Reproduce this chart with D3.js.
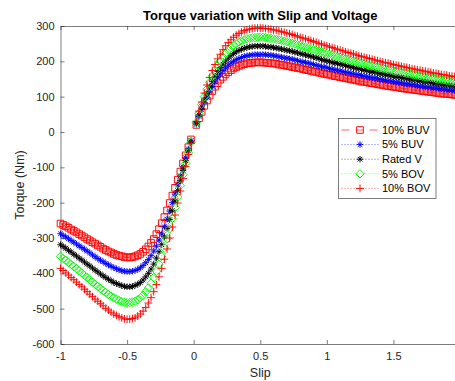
<!DOCTYPE html>
<html lang="en">
<head>
    <meta charset="UTF-8">
    <title>Torque variation with Slip and Voltage</title>
    <script src="https://d3js.org/d3.v7.min.js"></script>
    <style>
        body {
            margin: 0;
            background-color: #fff;
            font-family: "Liberation Sans", Arial, Helvetica, sans-serif;
        }
        svg { display: block; }
        .axis path, .axis line { stroke: #262626; stroke-width: 0.6px; }
        .axis text { fill: #262626; font-size: 11px; font-family: "Liberation Sans", Arial, sans-serif; }
    </style>
</head>
<body>
    <svg id="chart" width="455" height="381"></svg>
    <script>
// slip grid (s = 0 gives no value, so the curves break there)
const slip = [
    -1, -0.98, -0.96, -0.94, -0.92, -0.9, -0.88, -0.86, -0.84, -0.82,
    -0.8, -0.78, -0.76, -0.74, -0.72, -0.7, -0.68, -0.66, -0.64, -0.62,
    -0.6, -0.58, -0.56, -0.54, -0.52, -0.5, -0.48, -0.46, -0.44, -0.42,
    -0.4, -0.38, -0.36, -0.34, -0.32, -0.3, -0.28, -0.26, -0.24, -0.22,
    -0.2, -0.18, -0.16, -0.14, -0.12, -0.1, -0.08, -0.06, -0.04, -0.02,
    0,
    0.02, 0.04, 0.06, 0.08, 0.1, 0.12, 0.14, 0.16, 0.18, 0.2,
    0.22, 0.24, 0.26, 0.28, 0.3, 0.32, 0.34, 0.36, 0.38, 0.4,
    0.42, 0.44, 0.46, 0.48, 0.5, 0.52, 0.54, 0.56, 0.58, 0.6,
    0.62, 0.64, 0.66, 0.68, 0.7, 0.72, 0.74, 0.76, 0.78, 0.8,
    0.82, 0.84, 0.86, 0.88, 0.9, 0.92, 0.94, 0.96, 0.98, 1,
    1.02, 1.04, 1.06, 1.08, 1.1, 1.12, 1.14, 1.16, 1.18, 1.2,
    1.22, 1.24, 1.26, 1.28, 1.3, 1.32, 1.34, 1.36, 1.38, 1.4,
    1.42, 1.44, 1.46, 1.48, 1.5, 1.52, 1.54, 1.56, 1.58, 1.6,
    1.62, 1.64, 1.66, 1.68, 1.7, 1.72, 1.74, 1.76, 1.78, 1.8,
    1.82, 1.84, 1.86, 1.88, 1.9, 1.92, 1.94, 1.96, 1.98, 2
];

// torque (Nm) for each voltage level
const buv10 = [
    -259, -263, -267, -271, -276, -280, -284, -289, -293, -298,
    -303, -307, -312, -316, -321, -325, -330, -334, -338, -341,
    -345, -348, -350, -352, -354, -355, -355, -354, -352, -349,
    -345, -339, -332, -324, -314, -303, -289, -275, -258, -241,
    -222, -201, -180, -158, -135, -112, -89, -66, -43, -21,
    null,
    20, 39, 57, 74, 89, 103, 116, 128, 138, 148,
    156, 163, 169, 175, 180, 184, 187, 190, 192, 194,
    195, 196, 197, 197, 197, 197, 196, 195, 195, 194,
    193, 191, 190, 189, 187, 186, 184, 183, 181, 180,
    178, 176, 175, 173, 171, 170, 168, 166, 165, 163,
    162, 160, 158, 157, 155, 154, 152, 151, 149, 148,
    146, 145, 143, 142, 141, 139, 138, 137, 135, 134,
    133, 131, 130, 129, 128, 127, 126, 124, 123, 122,
    121, 120, 119, 118, 117, 116, 115, 114, 113, 112,
    111, 110, 109, 108, 108, 107, 106, 105, 104, 103
];
const buv5 = [
    -288, -293, -297, -302, -307, -312, -317, -322, -327, -332,
    -337, -342, -348, -353, -358, -363, -367, -372, -376, -380,
    -384, -387, -390, -393, -394, -395, -395, -394, -392, -389,
    -384, -378, -370, -361, -350, -337, -323, -306, -288, -268,
    -247, -224, -200, -176, -150, -124, -99, -73, -48, -24,
    null,
    22, 44, 64, 82, 99, 115, 129, 142, 154, 164,
    174, 182, 189, 195, 200, 205, 208, 211, 214, 216,
    217, 218, 219, 219, 219, 219, 219, 218, 217, 216,
    215, 213, 212, 210, 209, 207, 206, 204, 202, 200,
    198, 197, 195, 193, 191, 189, 187, 185, 184, 182,
    180, 178, 176, 175, 173, 171, 169, 168, 166, 164,
    163, 161, 160, 158, 157, 155, 154, 152, 151, 149,
    148, 146, 145, 144, 142, 141, 140, 139, 137, 136,
    135, 134, 133, 131, 130, 129, 128, 127, 126, 125,
    124, 123, 122, 121, 120, 119, 118, 117, 116, 115
];
const rated = [
    -319, -324, -329, -335, -340, -346, -351, -357, -362, -368,
    -374, -379, -385, -391, -396, -402, -407, -412, -417, -421,
    -426, -429, -432, -435, -437, -438, -438, -437, -434, -431,
    -426, -419, -410, -400, -388, -374, -357, -339, -319, -297,
    -273, -248, -222, -195, -166, -138, -109, -81, -53, -26,
    null,
    25, 48, 71, 91, 110, 128, 143, 158, 171, 182,
    192, 201, 209, 216, 222, 227, 231, 234, 237, 239,
    241, 242, 243, 243, 243, 243, 242, 241, 240, 239,
    238, 236, 235, 233, 231, 230, 228, 226, 224, 222,
    220, 218, 216, 214, 212, 210, 208, 205, 203, 201,
    199, 197, 195, 194, 192, 190, 188, 186, 184, 182,
    180, 179, 177, 175, 174, 172, 170, 169, 167, 165,
    164, 162, 161, 159, 158, 156, 155, 154, 152, 151,
    150, 148, 147, 146, 144, 143, 142, 141, 140, 138,
    137, 136, 135, 134, 133, 132, 131, 130, 129, 128
];
const bov5 = [
    -352, -358, -363, -369, -375, -381, -387, -393, -399, -406,
    -412, -418, -425, -431, -437, -443, -449, -454, -460, -465,
    -469, -473, -477, -480, -482, -483, -483, -481, -479, -475,
    -469, -462, -452, -441, -428, -412, -394, -374, -352, -328,
    -302, -274, -245, -214, -184, -152, -121, -89, -59, -29,
    null,
    27, 53, 78, 100, 121, 141, 158, 174, 188, 201,
    212, 222, 231, 238, 245, 250, 255, 258, 261, 264,
    265, 267, 267, 268, 268, 268, 267, 266, 265, 264,
    262, 261, 259, 257, 255, 253, 251, 249, 247, 245,
    242, 240, 238, 236, 233, 231, 229, 227, 224, 222,
    220, 218, 216, 213, 211, 209, 207, 205, 203, 201,
    199, 197, 195, 193, 191, 189, 188, 186, 184, 182,
    181, 179, 177, 176, 174, 172, 171, 169, 168, 166,
    165, 163, 162, 161, 159, 158, 156, 155, 154, 153,
    151, 150, 149, 148, 146, 145, 144, 143, 142, 141
];
const bov10 = [
    -386, -392, -399, -405, -412, -418, -425, -432, -438, -445,
    -452, -459, -466, -473, -479, -486, -492, -499, -504, -510,
    -515, -519, -523, -526, -529, -530, -530, -528, -526, -521,
    -515, -507, -497, -484, -469, -452, -432, -410, -386, -360,
    -331, -300, -269, -235, -201, -167, -132, -98, -64, -32,
    null,
    30, 59, 85, 110, 133, 154, 174, 191, 207, 220,
    233, 244, 253, 261, 268, 274, 279, 283, 287, 289,
    291, 293, 294, 294, 294, 294, 293, 292, 291, 289,
    288, 286, 284, 282, 280, 278, 276, 273, 271, 268,
    266, 264, 261, 259, 256, 254, 251, 249, 246, 244,
    241, 239, 237, 234, 232, 230, 227, 225, 223, 221,
    218, 216, 214, 212, 210, 208, 206, 204, 202, 200,
    198, 196, 195, 193, 191, 189, 188, 186, 184, 183,
    181, 179, 178, 176, 175, 173, 172, 170, 169, 167,
    166, 165, 163, 162, 161, 159, 158, 157, 156, 154
];

const seriesNames = ["10% BUV", "5% BUV", "Rated V", "5% BOV", "10% BOV"];
const xTicks = [-1, -0.5, 0, 0.5, 1, 1.5];
const yTicks = [-600, -500, -400, -300, -200, -100, 0, 100, 200, 300];

// matlab style for each series
const styles = [
    { values: buv10, color: "#ff0000", marker: "square",   dash: "8,6" },
    { values: buv5,  color: "#0000ff", marker: "asterisk", dash: "1,2" },
    { values: rated, color: "#000000", marker: "asterisk", dash: "1,2" },
    { values: bov5,  color: "#00ff00", marker: "diamond",  dash: "1,2" },
    { values: bov10, color: "#ff0000", marker: "plus",     dash: "1,2" }
];

const svg = d3.select("#chart");

const plot = { left: 60.5, right: 460, top: 26, bottom: 344 };

const x = d3.scaleLinear().domain([-1, 2]).range([plot.left, plot.right]);
const y = d3.scaleLinear().domain([-600, 300]).range([plot.bottom, plot.top]);

function markerPath(type) {
    if (type === "square") return "M-3.3,-3.3H3.3V3.3H-3.3Z";
    if (type === "diamond") return "M0,-4.2L4.2,0L0,4.2L-4.2,0Z";
    if (type === "plus") return "M-3.9,0H3.9M0,-3.9V3.9";
    // asterisk = plus + cross
    return "M-3.2,0H3.2M0,-3.2V3.2M-2.3,-2.3L2.3,2.3M-2.3,2.3L2.3,-2.3";
}

// axes (ticks point inwards like matlab)
svg.append("g")
    .attr("class", "axis")
    .attr("transform", `translate(0,${plot.bottom})`)
    .call(d3.axisBottom(x).tickValues(xTicks).tickSizeInner(-4).tickSizeOuter(0).tickPadding(8)
        .tickFormat(d => d));

svg.append("g")
    .attr("class", "axis")
    .attr("transform", `translate(0,${plot.top})`)
    .call(d3.axisTop(x).tickValues(xTicks).tickSizeInner(-4).tickSizeOuter(0).tickFormat(""));

svg.append("g")
    .attr("class", "axis")
    .attr("transform", `translate(${plot.left},0)`)
    .call(d3.axisLeft(y).tickValues(yTicks).tickSizeInner(-4).tickSizeOuter(0).tickPadding(6)
        .tickFormat(d => d));

// curves
const line = d3.line()
    .defined(d => d.t !== null)
    .x(d => x(d.s))
    .y(d => y(d.t));

styles.forEach(st => {
    const pts = slip.map((s, i) => ({ s: s, t: st.values[i] }));

    svg.append("path")
        .datum(pts)
        .attr("fill", "none")
        .attr("stroke", st.color)
        .attr("stroke-width", 0.6)
        .attr("stroke-dasharray", st.dash)
        .attr("d", line);

    svg.append("g")
        .selectAll("path")
        .data(pts.filter(d => d.t !== null))
        .enter().append("path")
        .attr("transform", d => `translate(${x(d.s)},${y(d.t)})`)
        .attr("d", markerPath(st.marker))
        .attr("fill", "none")
        .attr("stroke", st.color)
        .attr("stroke-width", 0.95);
});

// title and labels
svg.append("text")
    .attr("x", (plot.left + plot.right) / 2)
    .attr("y", 19.5)
    .attr("text-anchor", "middle")
    .style("font-size", "13px")
    .style("font-weight", "bold")
    .style("fill", "#000")
    .text("Torque variation with Slip and Voltage");

svg.append("text")
    .attr("x", (plot.left + plot.right) / 2)
    .attr("y", 377)
    .attr("text-anchor", "middle")
    .style("font-size", "12.5px")
    .style("fill", "#262626")
    .text("Slip");

svg.append("text")
    .attr("transform", `translate(23.5,${(plot.top + plot.bottom) / 2}) rotate(-90)`)
    .attr("text-anchor", "middle")
    .style("font-size", "12.5px")
    .style("fill", "#262626")
    .text("Torque (Nm)");

// legend
const legend = svg.append("g");
legend.append("rect")
    .attr("x", 338.5)
    .attr("y", 118.5)
    .attr("width", 97.5)
    .attr("height", 80)
    .attr("fill", "#fff")
    .attr("stroke", "#262626")
    .attr("stroke-width", 0.6);

styles.forEach((st, i) => {
    const ly = 130 + i * 14.6;
    legend.append("line")
        .attr("x1", 341.5).attr("x2", 378.5)
        .attr("y1", ly).attr("y2", ly)
        .attr("stroke", st.color)
        .attr("stroke-width", 0.6)
        .attr("stroke-dasharray", st.dash);
    legend.append("path")
        .attr("transform", `translate(360,${ly})`)
        .attr("d", markerPath(st.marker))
        .attr("fill", "none")
        .attr("stroke", st.color)
        .attr("stroke-width", 0.95);
    legend.append("text")
        .attr("x", 382)
        .attr("y", ly)
        .attr("dy", "0.35em")
        .style("font-size", "11px")
        .style("fill", "#000")
        .text(seriesNames[i]);
});
    </script>
</body>
</html>
